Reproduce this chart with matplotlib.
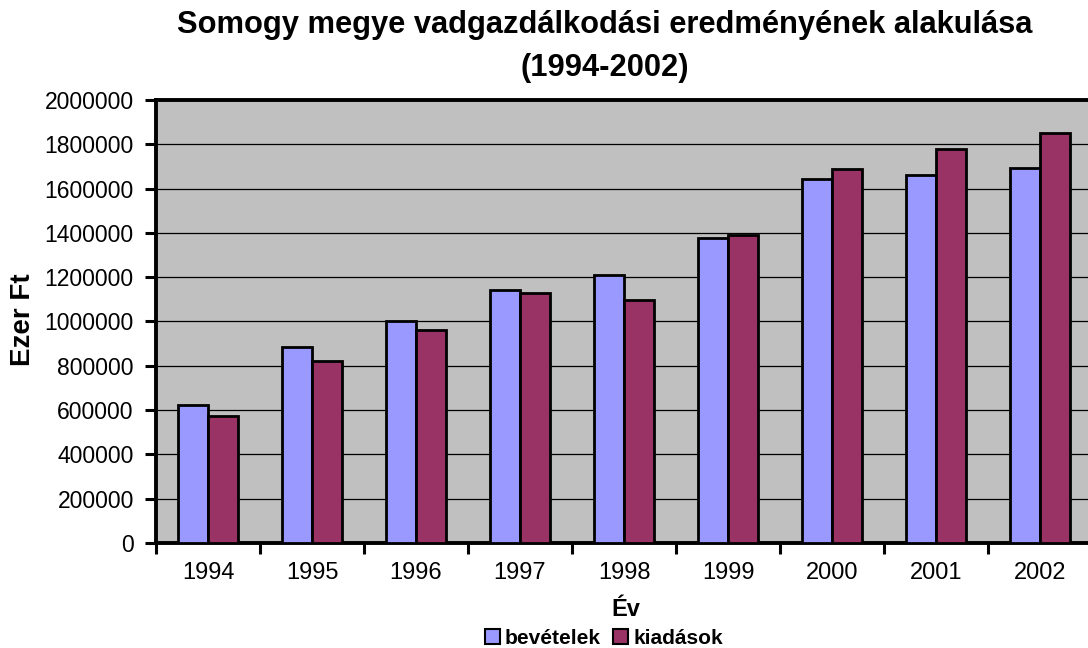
import matplotlib
matplotlib.use("Agg")
import matplotlib.pyplot as plt
import numpy as np
from matplotlib.patches import Patch

years = ["1994", "1995", "1996", "1997", "1998", "1999", "2000", "2001", "2002"]
bevetelek = [625000, 885000, 1000000, 1140000, 1210000, 1375000, 1645000, 1660000, 1695000]
kiadasok = [575000, 820000, 960000, 1130000, 1098000, 1390000, 1690000, 1780000, 1850000]
yticks = [0, 200000, 400000, 600000, 800000, 1000000, 1200000, 1400000, 1600000, 1800000, 2000000]

plt.rcParams['font.family'] = ['Liberation Sans', 'DejaVu Sans']

W, H = 1088, 648
fig = plt.figure(figsize=(W / 100, H / 100), dpi=100)
fig.patch.set_facecolor('white')

left, right, top, bottom = 156, 1092, 100, 543
ax = fig.add_axes([left / W, 1 - bottom / H, (right - left) / W, (bottom - top) / H])
ax.set_facecolor('#C0C0C0')

x = np.arange(len(years))
w = 0.285
c_bev = '#9999FF'
c_kia = '#993366'
ax.bar(x - w / 2, bevetelek, width=w, color=c_bev, edgecolor='black', linewidth=2.0, zorder=3)
ax.bar(x + w / 2, kiadasok, width=w, color=c_kia, edgecolor='black', linewidth=2.0, zorder=3)

ax.set_xlim(-0.5, len(years) - 0.5)
ax.set_ylim(0, 2000000)

ax.set_yticks(yticks)
ax.set_yticklabels([str(v) for v in yticks], fontsize=16.5)
ax.yaxis.grid(True, color='black', linewidth=0.9, zorder=1)
ax.set_axisbelow(True)

ax.set_xticks(np.arange(-0.5, len(years), 1.0))
ax.set_xticklabels([])
ax.set_xticks(x, minor=True)
ax.set_xticklabels(years, minor=True, fontsize=17)
ax.tick_params(axis='x', which='minor', length=0, pad=14)
ax.tick_params(axis='x', which='major', direction='out', length=8, width=2.2)
ax.tick_params(axis='y', direction='out', length=8, width=2.2, pad=8)

for s in ['left', 'top', 'bottom']:
    ax.spines[s].set_linewidth(2.8)
    ax.spines[s].set_color('black')
ax.spines['right'].set_visible(False)

fig.text(605 / W, 1 - 25 / H, "Somogy megye vadgazdálkodási eredményének alakulása",
         ha='center', va='center', fontsize=22.2, fontweight='bold')
fig.text(605 / W, 1 - 68 / H, "(1994-2002)",
         ha='center', va='center', fontsize=22.2, fontweight='bold')

fig.text(23 / W, 1 - 320 / H, "Ezer Ft", rotation=90, ha='center', va='center',
         fontsize=20, fontweight='bold')
fig.text(626 / W, 1 - 610 / H, "Év", ha='center', va='center',
         fontsize=17, fontweight='bold')

handles = [Patch(facecolor=c_bev, edgecolor='black', linewidth=1.5, label='bevételek'),
           Patch(facecolor=c_kia, edgecolor='black', linewidth=1.5, label='kiadások')]
fig.legend(handles=handles, loc='center', bbox_to_anchor=(604 / W, 1 - 638 / H),
           ncol=2, frameon=False, prop={'weight': 'bold', 'size': 15},
           handlelength=0.72, handleheight=0.72, handletextpad=0.25,
           columnspacing=0.6, borderpad=0, borderaxespad=0)

fig.savefig('out.png', dpi=100)
